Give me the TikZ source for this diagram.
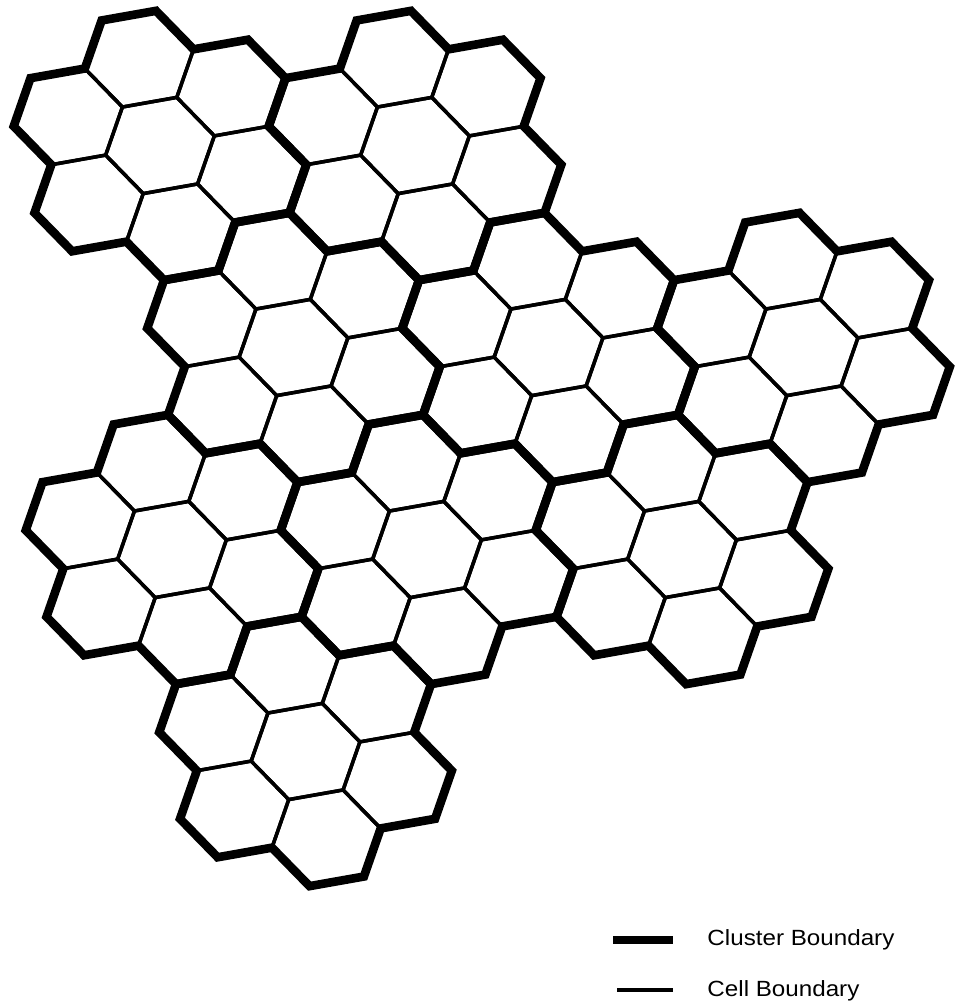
\documentclass[tikz,border=0pt]{standalone}
\usepackage{fontspec}
\setmainfont{Liberation Sans}
\begin{document}
\begin{tikzpicture}
\useasboundingbox (0,0) rectangle (479pt,-502.5pt);
\tikzset{
  cellline/.style={line width=1.75pt, line join=miter},
  clusterline/.style={line width=4.3pt, line join=miter},
  legendtext/.style={inner sep=0pt, anchor=base west, xscale=1.1, font=\fontsize{11}{13}\selectfont}
}
\begin{scope}[shift={(80pt,-72.75pt)}, x={(11.857pt,9.618pt)}, y={(-3.465pt,14.428pt)}]
  % cells
  \foreach \ci/\cj in {0/0,3/-2,1/-3,4/-5,7/-7,-1/-4,2/-6,5/-8,0/-7} {
    \foreach \di/\dj in {0/0,1/0,0/1,-1/1,-1/0,0/-1,1/-1} {
      \draw[cellline, shift={({3*(\ci+\di)},{3*(\cj+\dj)})}]
        (2,-1) -- (1,1) -- (-1,2) -- (-2,1) -- (-1,-1) -- (1,-2) -- cycle;
    }
  }
  % cluster boundaries
  \foreach \ci/\cj in {0/0,3/-2,1/-3,4/-5,7/-7,-1/-4,2/-6,5/-8,0/-7} {
    \draw[clusterline, shift={({3*\ci},{3*\cj})}]
      (4,-2) -- (5,-1) -- (4,1) -- (2,2) -- (1,4) -- (-1,5) -- (-2,4) -- (-4,5) -- (-5,4)
      -- (-4,2) -- (-5,1) -- (-4,-1) -- (-2,-2) -- (-1,-4) -- (1,-5) -- (2,-4) -- (4,-5)
      -- (5,-4) -- cycle;
  }
\end{scope}
% legend
\coordinate (t1) at (306.5pt,-470pt);
\coordinate (t2) at (336.5pt,-470pt);
\coordinate (c1) at (308.5pt,-495pt);
\coordinate (c2) at (336.5pt,-495pt);
\draw[clusterline] (t1) -- (t2);
\draw[cellline] (c1) -- (c2);
\node[legendtext] (lt1) at (353.5pt,-472.5pt) {Cluster Boundary};
\node[legendtext] (lt2) at (353.5pt,-498pt) {Cell Boundary};
\end{tikzpicture}
\end{document}
